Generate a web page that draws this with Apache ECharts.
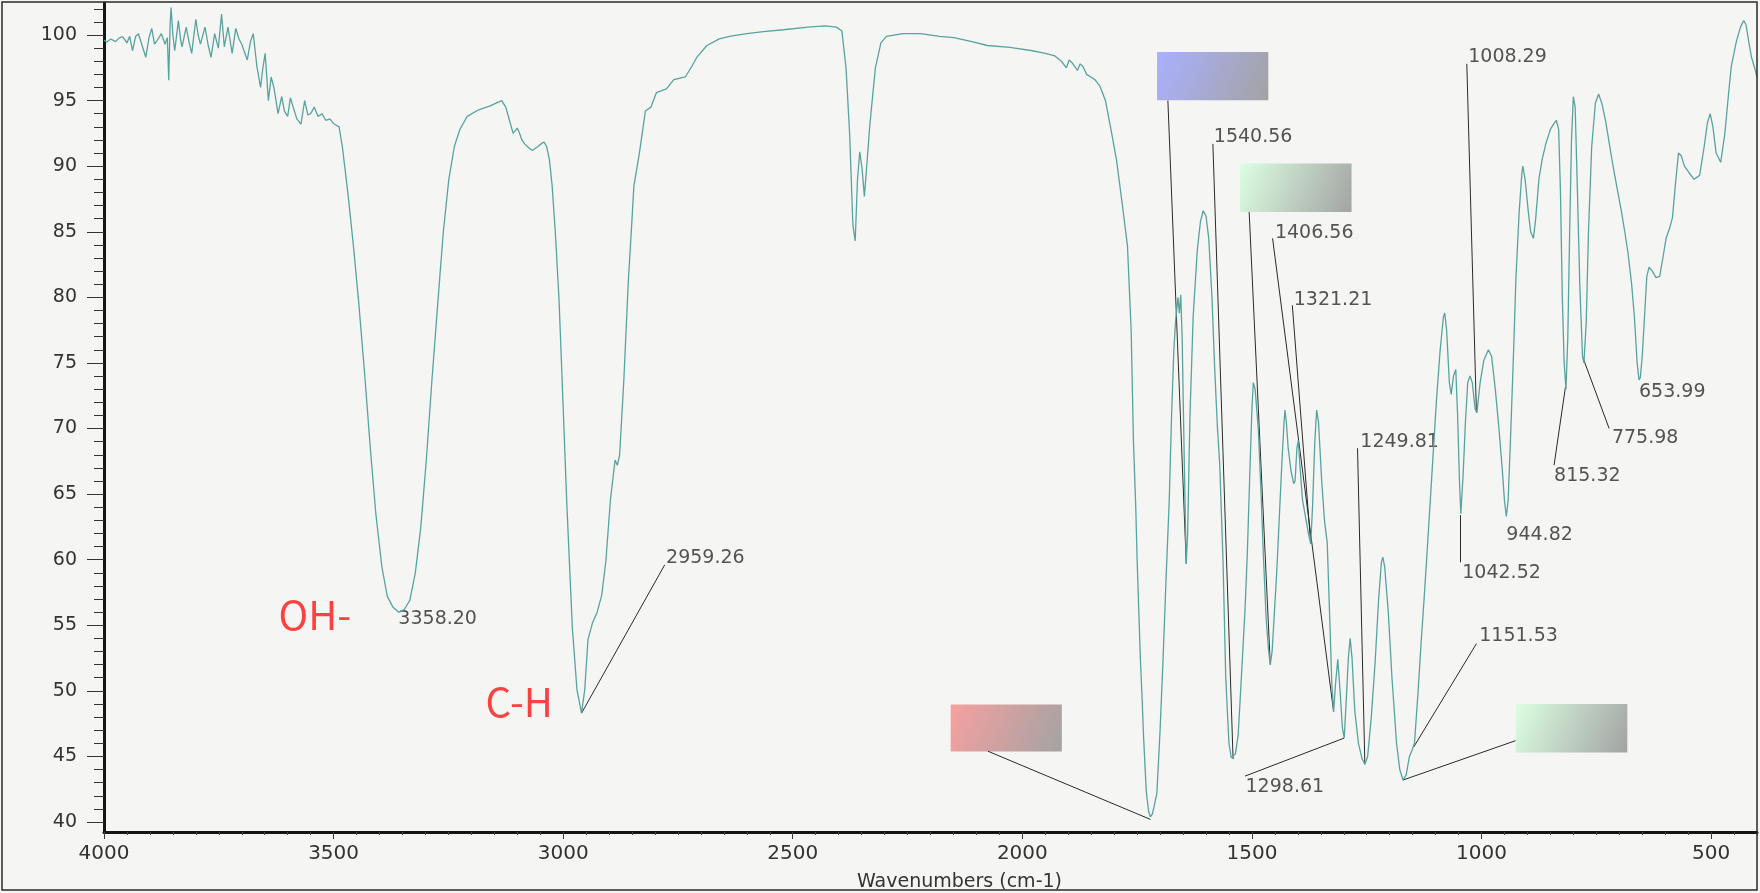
<!DOCTYPE html>
<html>
<head>
<meta charset="utf-8">
<title>IR spectrum</title>
<script src="https://cdn.jsdelivr.net/npm/echarts@6/dist/echarts.min.js"></script>
<style>
  html, body { margin: 0; padding: 0; background: #f5f5f3; }
  #ir { width: 1760px; height: 893px; }
</style>
</head>
<body>
<div id="ir"></div>
<script>
// spectrum: [wavenumber cm-1, %T]
var spectrum = [
  [4000, 99.6], [3994, 99.47], [3985, 99.7], [3975, 99.5], [3966, 99.8], [3959, 99.85], [3950, 99.4], [3944, 99.9], [3938, 98.8], [3931, 99.9],
  [3925, 100.1], [3917, 99.2], [3909, 98.3], [3902, 99.8], [3896, 100.5], [3890, 99.3], [3884, 99.6], [3875, 100.1], [3867, 99.3], [3862, 99.8],
  [3859, 96.55], [3856, 100.8], [3854, 102.1], [3850, 100.0], [3846, 98.8], [3838, 101.1], [3833, 99.6], [3830, 99.1], [3821, 100.6], [3815, 99.5],
  [3809, 98.6], [3800, 101.2], [3795, 100.0], [3790, 99.3], [3780, 100.6], [3773, 99.2], [3767, 98.3], [3759, 100.1], [3751, 99.0], [3744, 101.6],
  [3738, 99.1], [3730, 100.6], [3721, 98.6], [3713, 100.5], [3706, 99.7], [3700, 99.3], [3688, 98.1], [3681, 99.5], [3675, 100.1], [3667, 97.6],
  [3659, 96.0], [3654, 97.5], [3649, 98.6], [3642, 95.0], [3636, 96.8], [3630, 96.0], [3621, 94.0], [3613, 95.3], [3607, 94.2], [3600, 93.8],
  [3594, 95.2], [3588, 94.5], [3580, 93.6], [3571, 93.2], [3563, 95.0], [3556, 93.9], [3550, 94.0], [3542, 94.5], [3534, 93.8], [3525, 94.0],
  [3517, 93.5], [3508, 93.6], [3500, 93.25], [3493, 93.1], [3488, 93.0], [3481, 91.5], [3469, 88.0], [3457, 84.0], [3445, 79.5], [3432, 74.0],
  [3420, 68.5], [3408, 63.5], [3395, 59.5], [3383, 57.2], [3371, 56.4], [3358, 56.0], [3346, 56.2], [3334, 56.9], [3322, 59.0], [3310, 62.5],
  [3298, 67.6], [3286, 73.6], [3273, 79.6], [3261, 85.0], [3249, 89.0], [3237, 91.5], [3225, 92.8], [3209, 93.8], [3184, 94.3], [3159, 94.6],
  [3140, 94.9], [3134, 95.0], [3125, 94.5], [3117, 93.5], [3109, 92.5], [3100, 92.9], [3096, 92.6], [3090, 92.0], [3084, 91.7], [3075, 91.4],
  [3067, 91.2], [3055, 91.5], [3048, 91.7], [3042, 91.85], [3036, 91.5], [3030, 90.5], [3024, 88.5], [3017, 84.9], [3009, 79.8], [3004, 75.3],
  [2992, 64.2], [2980, 54.8], [2970, 50.1], [2960, 48.3], [2953, 50.1], [2946, 53.9], [2936, 55.2], [2926, 56.0], [2916, 57.3], [2907, 59.9],
  [2897, 64.6], [2887, 67.6], [2882, 67.2], [2877, 68.0], [2868, 73.6], [2858, 81.3], [2850, 86.0], [2846, 88.5], [2834, 91.0], [2821, 94.2],
  [2809, 94.5], [2797, 95.6], [2775, 95.9], [2759, 96.6], [2734, 96.8], [2720, 97.6], [2709, 98.3], [2687, 99.2], [2660, 99.7], [2638, 99.9],
  [2600, 100.1], [2564, 100.25], [2520, 100.4], [2467, 100.6], [2430, 100.7], [2405, 100.6], [2393, 100.3], [2384, 97.5], [2376, 92.4], [2369, 85.5],
  [2364, 84.3], [2359, 89.0], [2354, 91.1], [2349, 89.8], [2344, 87.7], [2340, 89.5], [2332, 93.2], [2320, 97.5], [2308, 99.4], [2296, 99.9],
  [2260, 100.1], [2222, 100.1], [2180, 99.9], [2149, 99.8], [2110, 99.5], [2076, 99.2], [2027, 99.05], [1978, 98.8], [1950, 98.6], [1929, 98.4],
  [1915, 98.0], [1904, 97.5], [1898, 98.1], [1892, 97.9], [1886, 97.6], [1880, 97.3], [1874, 97.8], [1868, 97.6], [1860, 97.0], [1851, 96.8],
  [1842, 96.6], [1831, 96.1], [1819, 95.0], [1807, 92.8], [1795, 90.5], [1782, 87.0], [1771, 83.9], [1763, 77.5], [1758, 69.0], [1753, 64.0],
  [1750, 60.0], [1743, 52.5], [1739, 49.3], [1736, 46.5], [1730, 42.3], [1725, 40.8], [1721, 40.4], [1717, 40.6], [1713, 41.2], [1707, 42.2],
  [1700, 47.0], [1694, 52.0], [1687, 58.5], [1680, 64.6], [1675, 71.0], [1670, 76.0], [1666, 78.3], [1661, 80.0], [1658, 78.8], [1655, 80.2],
  [1652, 77.0], [1649, 70.9], [1645, 63.0], [1643, 59.7], [1640, 62.0], [1635, 70.9], [1628, 78.5], [1619, 83.6], [1612, 85.8], [1606, 86.6],
  [1600, 86.2], [1594, 84.5], [1587, 80.0], [1581, 74.5], [1575, 70.0], [1570, 67.2], [1563, 60.0], [1557, 51.0], [1550, 46.0], [1545, 44.9],
  [1541, 44.8], [1536, 45.2], [1530, 46.6], [1523, 51.0], [1515, 56.2], [1510, 60.5], [1504, 67.2], [1500, 71.5], [1497, 73.5], [1493, 73.0],
  [1486, 69.9], [1480, 65.0], [1475, 60.3], [1469, 55.5], [1464, 53.2], [1460, 52.0], [1456, 53.0], [1451, 56.0], [1446, 59.0], [1440, 63.5],
  [1435, 67.2], [1430, 70.5], [1428, 71.4], [1425, 70.5], [1421, 68.5], [1415, 66.8], [1409, 65.8], [1406, 66.0], [1402, 68.5], [1399, 69.1],
  [1395, 67.0], [1390, 64.6], [1382, 63.0], [1377, 62.0], [1372, 61.2], [1368, 64.0], [1363, 69.0], [1359, 71.4], [1355, 70.5], [1348, 66.0],
  [1342, 63.0], [1336, 61.3], [1330, 55.0], [1326, 50.5], [1322, 48.4], [1318, 50.5], [1313, 52.4], [1308, 50.0], [1303, 47.2], [1299, 46.4],
  [1295, 49.0], [1290, 52.5], [1286, 54.0], [1282, 52.5], [1276, 48.5], [1268, 46.0], [1260, 44.8], [1254, 44.4], [1248, 45.0], [1240, 48.0],
  [1232, 52.0], [1224, 57.0], [1218, 59.8], [1215, 60.2], [1211, 59.5], [1203, 56.0], [1195, 51.0], [1185, 46.0], [1178, 44.0], [1171, 43.2],
  [1164, 43.6], [1157, 45.0], [1151, 45.5], [1146, 46.0], [1138, 50.0], [1130, 54.5], [1125, 57.0], [1116, 62.0], [1107, 67.1], [1098, 72.2],
  [1090, 76.0], [1083, 78.5], [1080, 78.8], [1076, 77.5], [1070, 73.5], [1066, 72.6], [1061, 74.0], [1056, 74.5], [1052, 71.0], [1048, 66.0],
  [1045, 63.5], [1040, 66.5], [1035, 70.5], [1030, 73.5], [1025, 74.0], [1020, 73.5], [1014, 71.5], [1010, 71.2], [1003, 73.5], [995, 75.2],
  [985, 76.0], [978, 75.5], [970, 73.0], [962, 70.0], [955, 67.0], [950, 64.5], [946, 63.3], [942, 64.5], [936, 70.0], [930, 76.0],
  [925, 81.5], [918, 86.5], [912, 89.5], [910, 90.0], [905, 89.0], [898, 86.5], [893, 85.0], [887, 84.5], [882, 86.0], [875, 89.0],
  [868, 90.5], [860, 91.7], [850, 92.8], [843, 93.2], [837, 93.5], [832, 92.8], [828, 88.0], [824, 80.0], [820, 75.0], [816, 73.0],
  [812, 77.0], [808, 85.0], [804, 92.0], [800, 95.3], [796, 94.5], [791, 88.0], [786, 81.0], [780, 75.5], [777, 75.0], [772, 78.0],
  [767, 85.0], [760, 91.5], [752, 94.8], [745, 95.5], [738, 94.8], [730, 93.5], [722, 91.8], [713, 89.9], [704, 88.2], [695, 86.5],
  [688, 85.0], [681, 83.4], [673, 81.0], [667, 78.5], [661, 75.0], [657, 73.7], [654, 73.9], [650, 75.5], [645, 78.5], [640, 81.6],
  [635, 82.3], [628, 82.0], [620, 81.5], [612, 81.6], [605, 83.0], [598, 84.5], [590, 85.3], [584, 86.1], [578, 88.5], [571, 91.0],
  [565, 90.8], [558, 90.0], [548, 89.5], [537, 89.0], [525, 89.3], [515, 91.5], [508, 93.3], [502, 94.0], [496, 93.0], [489, 91.0],
  [479, 90.3], [470, 92.5], [462, 95.5], [456, 97.6], [445, 99.5], [436, 100.6], [429, 101.1], [424, 100.8], [418, 99.5], [412, 98.3],
  [406, 97.6], [400, 96.8]
];

// tick labels
var xTicks = [4000, 3500, 3000, 2500, 2000, 1500, 1000, 500];
var yTicks = [40, 45, 50, 55, 60, 65, 70, 75, 80, 85, 90, 95, 100];

// peak labels: text, left edge (cm-1), middle (%T)
var peakText = ['3358.20', '2959.26', '1540.56', '1406.56', '1321.21', '1249.81', '1298.61',
                '1151.53', '1042.52', '944.82', '1008.29', '815.32', '775.98', '653.99'];
var peakX = [3360, 2777, 1584, 1451, 1410, 1265, 1515, 1006, 1043, 947, 1030, 843, 717, 658];
var peakY = [55.45, 60.1, 92.2, 84.9, 79.8, 69.0, 42.7, 54.15, 59.0, 61.9, 98.3, 66.4, 69.3, 72.8];

// leader lines: from label/box to band
var leadFromX = [2779, 2075, 1683, 1585, 1506, 1455, 1412, 1270, 1515, 1011, 926, 1046, 1032, 842, 722];
var leadFromY = [59.6, 45.4, 95.0, 91.7, 86.5, 84.5, 79.4, 68.5, 43.5, 53.6, 46.2, 59.8, 97.8, 67.2, 70.0];
var leadToX = [2960, 1721, 1643, 1541, 1460, 1322, 1372, 1254, 1299, 1148, 1171, 1046, 1011, 817, 778];
var leadToY = [48.3, 40.2, 59.7, 44.8, 52.0, 48.4, 61.2, 44.4, 46.4, 45.7, 43.2, 63.4, 71.2, 73.2, 75.3];

// blanked label boxes (cm-1 / %T corners)
var boxX1 = [2156, 1706.6, 1526, 925.4];
var boxX2 = [1914, 1464.3, 1283, 682.4];
var boxY1 = [45.37, 95.03, 86.5, 45.3];
var boxY2 = [48.96, 98.7, 90.2, 49.0];
var boxTint = ['#f7a0a0', '#aab0ff', '#dcffe2', '#dcffe2'];

// hand written group names
var groupText = ['OH-', 'C-H'];
var groupX = [3621, 3170];
var groupY = [55.8, 49.2];

var xMinor = [];
for (var v = 400; v <= 4000; v += 50) xMinor.push(v);
var yMinor = [];
for (var t = 40; t <= 102; t++) yMinor.push(t);

var chart = echarts.init(document.getElementById('ir'));

var leaders = leadFromX.map(function (x, i) {
  return { coords: [[x, leadFromY[i]], [leadToX[i], leadToY[i]]] };
});
var peaks = peakText.map(function (s, i) {
  return { name: s, value: [peakX[i], peakY[i]] };
});
var groups = groupText.map(function (s, i) {
  return { name: s, value: [groupX[i], groupY[i]] };
});
var boxes = boxX1.map(function (x, i) {
  return [{
    coord: [x, boxY2[i]],
    itemStyle: {
      opacity: 1,
      color: new echarts.graphic.LinearGradient(0, 0, 1, 1, [
        { offset: 0, color: boxTint[i] },
        { offset: 1, color: '#a3a3a3' }
      ])
    }
  }, { coord: [boxX2[i], boxY1[i]] }];
});

function plain(v) { return String(v); }

var option = {
  animation: false,
  backgroundColor: '#f5f5f3',
  grid: { left: 104, right: 3, top: 3, bottom: 61, outerBoundsMode: 'none', containLabel: false },
  xAxis: [{
    type: 'value', inverse: true, min: 400, max: 4000,
    axisLine: { show: true, onZero: false, lineStyle: { color: '#151515', width: 3 } },
    axisTick: { show: true, customValues: xTicks, length: 7, lineStyle: { color: '#333', width: 1 } },
    axisLabel: { customValues: xTicks, margin: 12, formatter: plain, color: '#333', fontSize: 20, fontFamily: 'DejaVu Sans' },
    splitLine: { show: false },
    name: 'Wavenumbers (cm-1)', nameLocation: 'middle', nameGap: 41,
    nameTextStyle: { color: '#333', fontSize: 19, fontFamily: 'DejaVu Sans', padding: [0, 0, 0, 58] }
  }, {
    type: 'value', inverse: true, min: 400, max: 4000, position: 'bottom',
    axisLine: { show: false },
    axisTick: { show: true, customValues: xMinor, length: 3, lineStyle: { color: '#444', width: 1 } },
    axisLabel: { show: false },
    splitLine: { show: false }
  }],
  yAxis: [{
    type: 'value', min: 39.24, max: 102.44,
    axisLine: { show: true, lineStyle: { color: '#151515', width: 3 } },
    axisTick: { show: true, customValues: yTicks, length: 17, lineStyle: { color: '#333', width: 1 } },
    axisLabel: { customValues: yTicks, margin: 27, formatter: plain, color: '#333', fontSize: 19, fontFamily: 'DejaVu Sans' },
    splitLine: { show: false }
  }, {
    type: 'value', min: 39.24, max: 102.44, position: 'left',
    axisLine: { show: false },
    axisTick: { show: true, customValues: yMinor, length: 10, lineStyle: { color: '#333', width: 1 } },
    axisLabel: { show: false },
    splitLine: { show: false }
  }],
  graphic: [{
    type: 'rect', silent: true, z: 100,
    shape: { x: 2, y: 2, width: 1755, height: 888 },
    style: { fill: null, stroke: '#2a2a2a', lineWidth: 1.5 }
  }],
  series: [{
    name: 'spectrum', type: 'line', data: spectrum,
    symbol: 'none', lineStyle: { color: '#58a39e', width: 1.3 },
    markArea: { silent: true, data: boxes }
  }, {
    type: 'lines', coordinateSystem: 'cartesian2d', silent: true, z: 3,
    lineStyle: { color: '#2a2a2a', width: 1, opacity: 1 },
    data: leaders
  }, {
    type: 'scatter', silent: true, symbolSize: 1, itemStyle: { color: 'transparent' },
    data: peaks,
    label: { show: true, position: 'right', distance: 0, formatter: '{b}', color: '#2b2b2b', fontSize: 19, fontFamily: 'DejaVu Sans' }
  }, {
    type: 'scatter', silent: true, symbolSize: 1, itemStyle: { color: 'transparent' },
    data: groups,
    label: { show: true, position: 'right', distance: 0, formatter: '{b}', color: '#ff1414', fontSize: 40, fontFamily: 'Noto Sans CJK KR' }
  }]
};

chart.setOption(option);
</script>
</body>
</html>
